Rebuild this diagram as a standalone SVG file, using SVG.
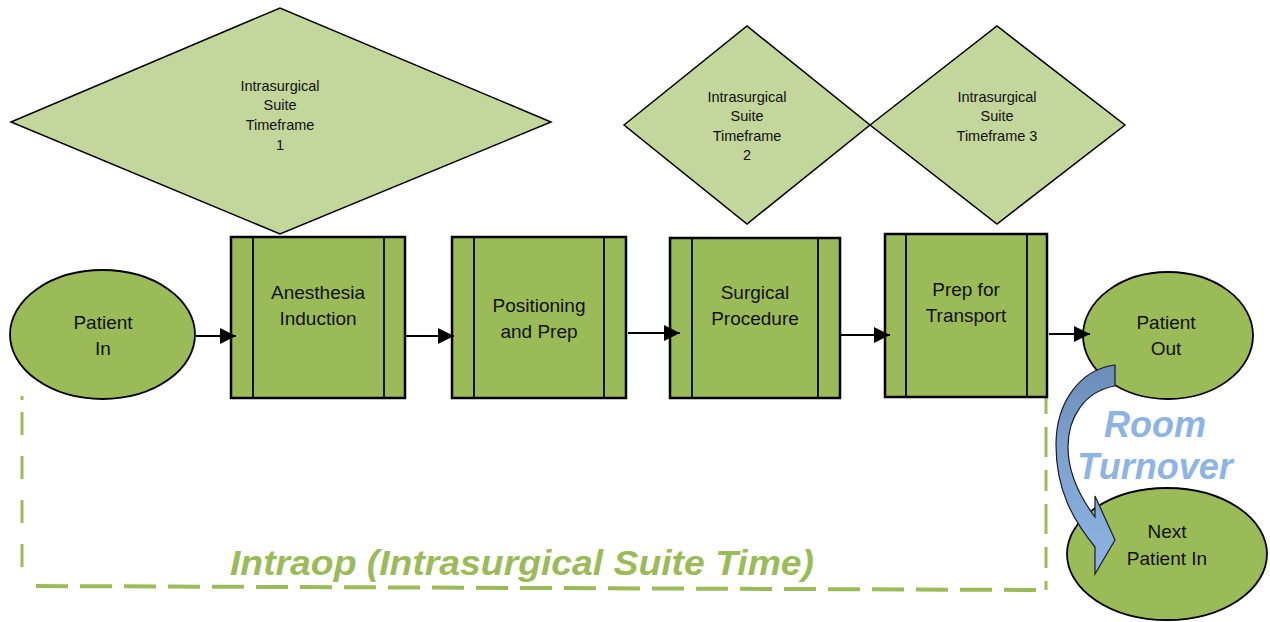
<svg xmlns="http://www.w3.org/2000/svg" width="1270" height="622" viewBox="0 0 1270 622">
<style>
.dia{fill:#C3D69B;stroke:#000;stroke-width:1.5}
.box{fill:#9BBB59;stroke:#000;stroke-width:2.5}
.ln{stroke:#000;stroke-width:1.8}
.ell{fill:#9BBB59;stroke:#000;stroke-width:1.8}
.t{font-family:"Liberation Sans",Arial,sans-serif;fill:#111;text-anchor:middle}
.ts{font-size:14.5px}
.tb{font-size:19px}
.con{stroke:#000;stroke-width:2.2;fill:none;marker-end:url(#ah)}
.dash{stroke:#9BBB59;fill:none}
</style>
<defs>
<marker id="ah" markerUnits="userSpaceOnUse" markerWidth="18" markerHeight="16" refX="16" refY="8" orient="auto">
<path d="M0,0 L16,8 L0,16 Z" fill="#000"/>
</marker>
<linearGradient id="bg" x1="0" y1="0" x2="0" y2="1">
<stop offset="0" stop-color="#6B8DB8"/>
<stop offset="0.45" stop-color="#7FA3D0"/>
<stop offset="1" stop-color="#8EB4E3"/>
</linearGradient>
</defs>
<rect width="1270" height="622" fill="#fff"/>

<g id="intraop-frame">
<path class="dash" d="M22,396 V400" stroke-width="3"/>
<path class="dash" d="M22,412 V586" stroke-width="3" stroke-dasharray="23 21"/>
<path class="dash" d="M36,586 L1036,590" stroke-width="4" stroke-dasharray="32 12"/>
<path class="dash" d="M1046,393 V590" stroke-width="3" stroke-dasharray="21 13 30 13"/>
<text x="522" y="575" font-family="'Liberation Sans',Arial,sans-serif" font-size="35" font-weight="bold" font-style="italic" fill="#9BBB59" text-anchor="middle" textLength="584" lengthAdjust="spacingAndGlyphs">Intraop (Intrasurgical Suite Time)</text>
</g>

<g id="timeframe1">
<polygon class="dia" points="11,122 280,8 551,122 280,234"/>
<text class="t ts" x="280"><tspan x="280" y="91">Intrasurgical</tspan><tspan x="280" y="110">Suite</tspan><tspan x="280" y="130">Timeframe</tspan><tspan x="280" y="150">1</tspan></text>
</g>
<g id="timeframe2">
<polygon class="dia" points="624,125 747,26 870,125 747,224"/>
<text class="t ts"><tspan x="747" y="102">Intrasurgical</tspan><tspan x="747" y="121">Suite</tspan><tspan x="747" y="141">Timeframe</tspan><tspan x="747" y="160">2</tspan></text>
</g>
<g id="timeframe3">
<polygon class="dia" points="870,125 997,26 1125,125 997,224"/>
<text class="t ts"><tspan x="997" y="102">Intrasurgical</tspan><tspan x="997" y="121">Suite</tspan><tspan x="997" y="141">Timeframe 3</tspan></text>
</g>

<g id="patient-in">
<ellipse class="ell" cx="102.5" cy="334.5" rx="92.5" ry="64.5"/>
<text class="t tb"><tspan x="103" y="329">Patient</tspan><tspan x="103" y="355">In</tspan></text>
</g>
<g id="anesthesia">
<rect class="box" x="231" y="237" width="174" height="161"/>
<line class="ln" x1="253" y1="237" x2="253" y2="398"/>
<line class="ln" x1="384" y1="237" x2="384" y2="398"/>
<text class="t tb"><tspan x="318" y="299">Anesthesia</tspan><tspan x="318" y="325">Induction</tspan></text>
</g>
<g id="positioning">
<rect class="box" x="452" y="237" width="174" height="161"/>
<line class="ln" x1="474" y1="237" x2="474" y2="398"/>
<line class="ln" x1="604" y1="237" x2="604" y2="398"/>
<text class="t tb"><tspan x="539" y="312">Positioning</tspan><tspan x="539" y="338">and Prep</tspan></text>
</g>
<g id="surgical">
<rect class="box" x="670" y="238" width="170" height="160"/>
<line class="ln" x1="692" y1="238" x2="692" y2="398"/>
<line class="ln" x1="818" y1="238" x2="818" y2="398"/>
<text class="t tb"><tspan x="755" y="299">Surgical</tspan><tspan x="755" y="325">Procedure</tspan></text>
</g>
<g id="prep-transport">
<rect class="box" x="885" y="234" width="162" height="163"/>
<line class="ln" x1="906" y1="234" x2="906" y2="397"/>
<line class="ln" x1="1027" y1="234" x2="1027" y2="397"/>
<text class="t tb"><tspan x="966" y="296">Prep for</tspan><tspan x="966" y="322">Transport</tspan></text>
</g>
<g id="patient-out">
<ellipse class="ell" cx="1168" cy="335.5" rx="85" ry="63.5"/>
<text class="t tb"><tspan x="1166" y="329">Patient</tspan><tspan x="1166" y="355">Out</tspan></text>
</g>
<g id="next-patient-in">
<ellipse class="ell" cx="1167" cy="554" rx="100" ry="66"/>
<text class="t tb"><tspan x="1167" y="538">Next</tspan><tspan x="1167" y="565">Patient In</tspan></text>
</g>

<g id="connectors">
<line class="con" x1="196" y1="336" x2="236" y2="336"/>
<line class="con" x1="405" y1="336" x2="454" y2="336"/>
<line class="con" x1="628" y1="333" x2="680" y2="333"/>
<line class="con" x1="840" y1="335" x2="890" y2="335"/>
<line class="con" x1="1049" y1="334" x2="1090" y2="334"/>
</g>

<g id="room-turnover">
<path d="M1115,365 C1082,369 1056,400 1056,445 C1056,490 1073,520 1095,547 L1095,574 L1115,540 L1095,496 L1095,517 C1080,497 1068,472 1068,447 C1068,417 1085,391 1115,386 Z" fill="url(#bg)" stroke="#1A1A2A" stroke-width="1.2"/>
<text font-family="'Liberation Sans',Arial,sans-serif" font-size="36" font-weight="bold" font-style="italic" fill="#8EB4E3" text-anchor="middle"><tspan x="1155" y="437">Room</tspan><tspan x="1155" y="479">Turnover</tspan></text>
</g>
</svg>
